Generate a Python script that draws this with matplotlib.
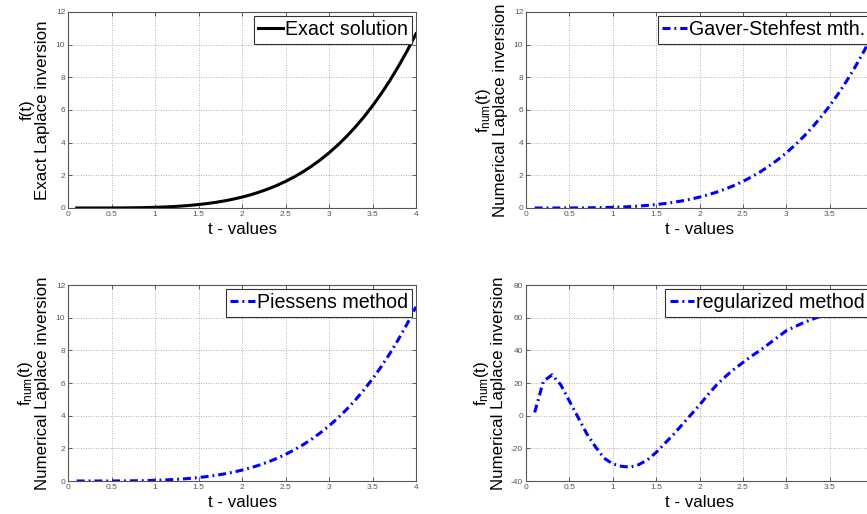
import matplotlib
matplotlib.use('Agg')
import matplotlib.pyplot as plt
from matplotlib.ticker import FuncFormatter

plt.rcParams['font.family'] = ['Liberation Sans', 'DejaVu Sans']
plt.rcParams['mathtext.fontset'] = 'custom'
plt.rcParams['mathtext.rm'] = 'Liberation Sans'
plt.rcParams['mathtext.it'] = 'Liberation Sans'

# time grid of the inversion
t = [0.1, 0.2, 0.3, 0.4, 0.5, 0.6, 0.7, 0.8, 0.9, 1.0,
     1.1, 1.2, 1.3, 1.4, 1.5, 1.6, 1.7, 1.8, 1.9, 2.0,
     2.1, 2.2, 2.3, 2.4, 2.5, 2.6, 2.7, 2.8, 2.9, 3.0,
     3.1, 3.2, 3.3, 3.4, 3.5, 3.6, 3.7, 3.8, 3.9, 4.0]

# exact inverse
f_exact = [0.000, 0.000, 0.000, 0.001, 0.003, 0.005, 0.010, 0.017, 0.027, 0.042,
           0.061, 0.086, 0.119, 0.160, 0.211, 0.273, 0.348, 0.437, 0.543, 0.667,
           0.810, 0.976, 1.166, 1.382, 1.628, 1.904, 2.214, 2.561, 2.947, 3.375,
           3.848, 4.369, 4.941, 5.568, 6.253, 6.998, 7.809, 8.689, 9.640, 10.667]

# numerical inverses
f_gaver = [0.000, 0.000, 0.000, 0.001, 0.003, 0.005, 0.010, 0.017, 0.027, 0.042,
           0.061, 0.086, 0.119, 0.160, 0.211, 0.273, 0.348, 0.437, 0.543, 0.667,
           0.810, 0.976, 1.166, 1.382, 1.628, 1.904, 2.214, 2.561, 2.947, 3.375,
           3.848, 4.369, 4.941, 5.568, 6.253, 6.998, 7.809, 8.689, 9.640, 10.667]

f_piessens = [0.000, 0.000, 0.000, 0.001, 0.003, 0.005, 0.010, 0.017, 0.027, 0.042,
              0.061, 0.086, 0.119, 0.160, 0.211, 0.273, 0.348, 0.437, 0.543, 0.667,
              0.810, 0.976, 1.166, 1.382, 1.628, 1.904, 2.214, 2.561, 2.947, 3.375,
              3.848, 4.369, 4.941, 5.568, 6.253, 6.998, 7.809, 8.689, 9.640, 10.667]

f_regular = [2.0, 21.0, 25.0, 19.0, 9.0, -1.0, -11.0, -19.0, -26.0, -29.5,
             -31.0, -31.5, -30.0, -27.0, -22.5, -17.0, -11.5, -5.5, 0.5, 6.5,
             13.0, 19.0, 24.0, 28.5, 32.5, 36.5, 40.0, 44.0, 48.0, 52.0,
             54.5, 57.0, 59.0, 61.0, 62.5, 64.0, 65.0, 66.0, 66.5, 67.0]

x_ticks = [0, 0.5, 1, 1.5, 2, 2.5, 3, 3.5, 4]
y_ticks_small = [0, 2, 4, 6, 8, 10, 12]
y_ticks_reg = [-40, -20, 0, 20, 40, 60, 80]

W, H = 867, 514
fig = plt.figure(figsize=(W / 100, H / 100), dpi=100)

def box(x0, y0, x1, y1):
    return [x0 / W, 1 - y1 / H, (x1 - x0) / W, (y1 - y0) / H]

# right-hand column runs a little past the figure edge
ax1 = fig.add_axes(box(68, 12, 416, 208))
ax2 = fig.add_axes(box(526, 12, 873, 208))
ax3 = fig.add_axes(box(68, 285, 416, 481))
ax4 = fig.add_axes(box(526, 285, 873, 481))

dashdot = (0, (2.6, 1.3, 0.6, 1.3))
num_label = 'f$_{\\mathrm{num}}$(t)\nNumerical Laplace inversion'

panels = [
    (ax1, f_exact, 'k', '-', 'Exact solution', y_ticks_small, 'f(t)\nExact Laplace inversion'),
    (ax2, f_gaver, 'b', dashdot, 'Gaver-Stehfest mth.', y_ticks_small, num_label),
    (ax3, f_piessens, 'b', dashdot, 'Piessens method', y_ticks_small, num_label),
    (ax4, f_regular, 'b', dashdot, 'regularized method', y_ticks_reg, num_label),
]

fmt = FuncFormatter(lambda v, p: '%g' % v)

for ax, y, col, ls, name, yt, ylab in panels:
    ax.plot(t, y, color=col, linestyle=ls, linewidth=2.2, label=name)
    ax.set_xlim(0, 4)
    ax.set_ylim(yt[0], yt[-1])
    ax.set_xticks(x_ticks)
    ax.set_yticks(yt)
    ax.xaxis.set_major_formatter(fmt)
    ax.yaxis.set_major_formatter(fmt)
    ax.grid(True, linestyle=(0, (1, 2)), color='#999999', linewidth=0.6)
    ax.tick_params(direction='in', top=True, right=True, length=3, width=0.6,
                   labelsize=6, labelcolor='#555555', color='#444444', pad=2)
    for s in ax.spines.values():
        s.set_color('#555555')
        s.set_linewidth(0.8)
    ax.set_xlabel('t - values', fontsize=12.2, labelpad=3)
    ax.set_ylabel(ylab, fontsize=12.2, labelpad=4, linespacing=1.0)
    leg = ax.legend(loc='upper right', fontsize=14.1, fancybox=False, framealpha=1,
                    edgecolor='#333333', handlelength=1.25, handletextpad=0.1,
                    borderpad=0.22, borderaxespad=0.2)
    leg.get_frame().set_linewidth(0.8)

fig.savefig('out.png', dpi=100)
